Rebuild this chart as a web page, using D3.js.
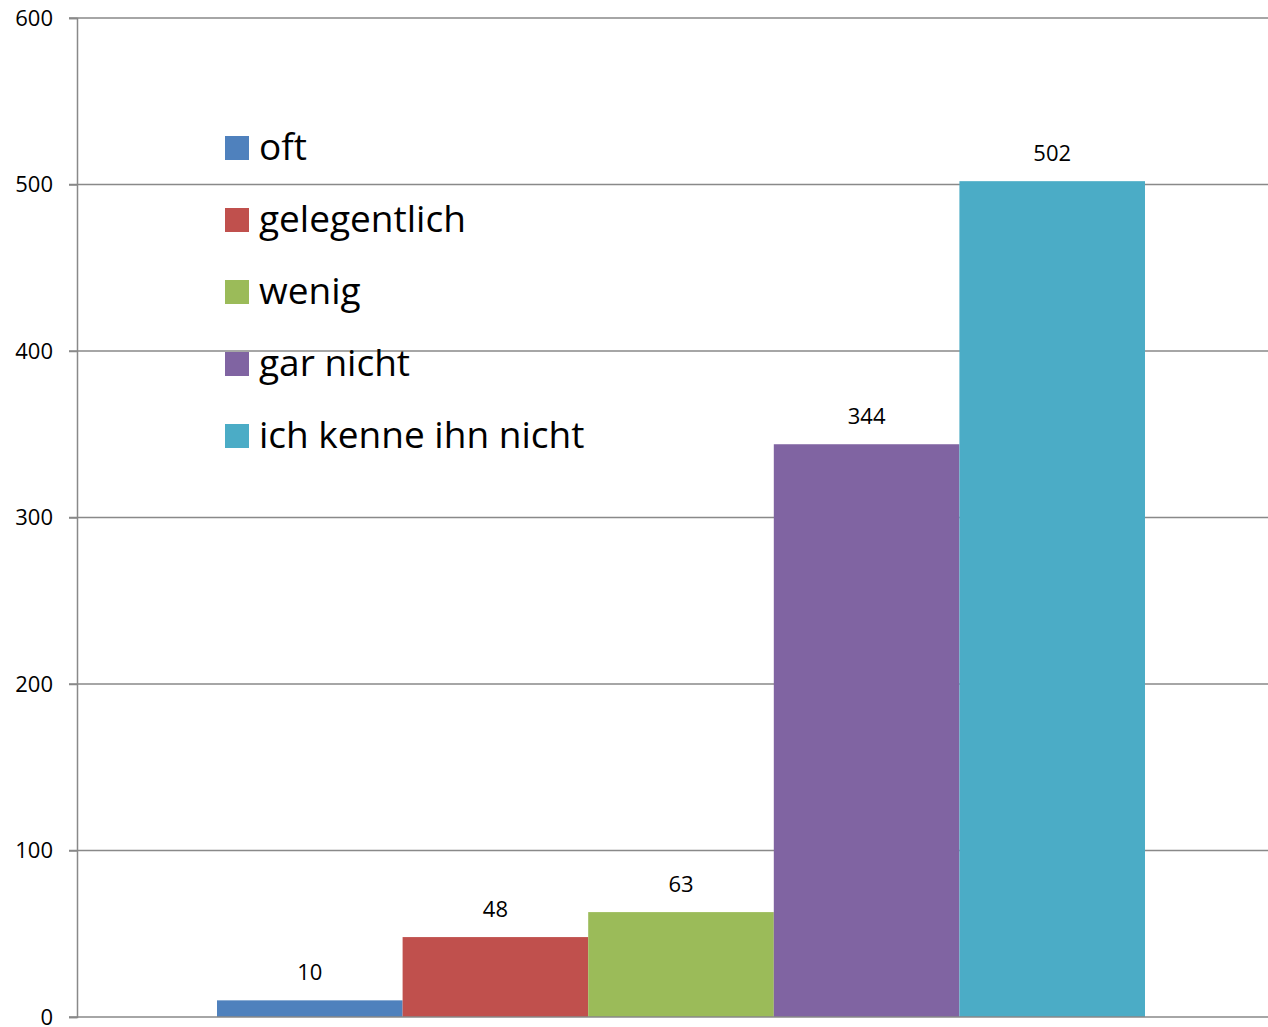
<!DOCTYPE html>
<html><head><meta charset="utf-8">
<script src="https://cdn.jsdelivr.net/npm/d3@7"></script>
<style>body{margin:0;background:#fff}svg{display:block;font-family:"Open Sans","Noto Sans",sans-serif}</style>
</head><body><svg id="c" width="1268" height="1027"></svg>
<script>
const categories = ["oft","gelegentlich","wenig","gar nicht","ich kenne ihn nicht"];
const values = [10,48,63,344,502];
const colors = ["#4f81bd","#c0504d","#9bbb59","#8064a2","#4bacc6"];
const yTicks = [0,100,200,300,400,500,600];

(function(){
const svg = d3.select("#c");
const mLeft = 77, mRight = 1268, mTop = 18, mBottom = 1017;
const y = d3.scaleLinear().domain([0,600]).range([mBottom, mTop]);
const x = d3.scaleBand().domain(categories).range([217,1145]).padding(0);

// gridlines
svg.append("g").selectAll("line").data(yTicks.filter(d=>d>0)).join("line")
  .attr("x1", mLeft-8).attr("x2", mRight).attr("y1", d=>y(d)).attr("y2", d=>y(d))
  .attr("stroke","#898989").attr("stroke-width",1.5);

// bars
svg.append("g").selectAll("rect").data(categories).join("rect")
  .attr("x", d=>x(d)).attr("width", x.bandwidth())
  .attr("y", (d,i)=>y(values[i])).attr("height", (d,i)=>y(0)-y(values[i]))
  .attr("fill", (d,i)=>colors[i]);

// axis
const yAxis = d3.axisLeft(y).tickValues(yTicks).tickSize(8).tickPadding(16);
const ga = svg.append("g").attr("transform",`translate(${mLeft},0)`).call(yAxis);
ga.select(".domain").attr("stroke","#898989").attr("stroke-width",1.5);
ga.selectAll(".tick line").attr("stroke","#898989").attr("stroke-width",1.5);
ga.selectAll(".tick text").attr("font-size",22).attr("fill","#000").attr("font-family","'Open Sans',sans-serif");
// bottom axis
svg.append("line").attr("x1",mLeft-8).attr("x2",mRight).attr("y1",y(0)).attr("y2",y(0))
  .attr("stroke","#898989").attr("stroke-width",1.5);

// data labels
svg.append("g").selectAll("text").data(categories).join("text")
  .attr("x", d=>x(d)+x.bandwidth()/2).attr("y",(d,i)=>y(values[i])-20)
  .attr("text-anchor","middle").attr("font-size",22).attr("fill","#000")
  .text((d,i)=>values[i]);

// legend
const lg = svg.append("g");
categories.forEach((c,i)=>{
  const cy = 148 + i*72;
  lg.append("rect").attr("x",225).attr("y",cy-12).attr("width",24).attr("height",24).attr("fill",colors[i]);
  lg.append("text").attr("x",259).attr("y",cy+12).attr("font-size",37).attr("fill","#000").text(c);
});
})();
</script></body></html>
